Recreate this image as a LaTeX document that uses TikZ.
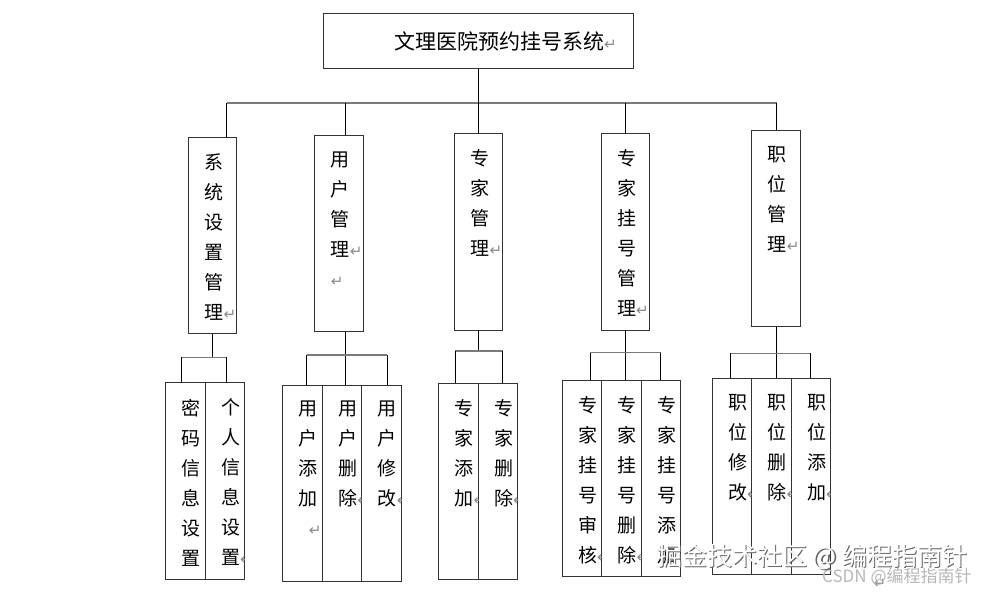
\documentclass[tikz,border=0pt]{standalone}
\usepackage{fontspec}
\newfontfamily\cjk{Noto Sans CJK SC}
\newfontfamily\symfont{DejaVu Sans}
\definecolor{retgray}{HTML}{8A8A8A}
\definecolor{busgray}{HTML}{7A7A7A}
\newcommand\rmk{{\symfont\fontsize{15}{15}\selectfont\color{retgray}↵}}
\newcommand\boxtext[3]{%
  \begin{scope}
    \clip (#1.north west) rectangle (#1.south east);
    \node[vtext] (#2) at ([shift={(16,16)}]#1.north west) {#3};
  \end{scope}}

\begin{document}
\begin{tikzpicture}[x=1pt, y=-1pt,
  mainbox/.style={draw=black!80, line width=0.9pt, fill=white, inner sep=0pt, outer sep=0pt, anchor=north west, minimum height=196.5pt, minimum width=48.5pt},
  leafbox/.style={mainbox, minimum width=39.5pt},
  vtext/.style={font=\cjk\fontsize{19}{30}\selectfont, align=left, inner sep=0pt, anchor=north west},
  link/.style={line width=0.8pt, black},
  bus/.style={line width=1.3pt, busgray}]
  \fill[white] (0,0) rectangle (990,592);
  \useasboundingbox (0,0) rectangle (990,592);

  % top
  \node[draw=black!80, line width=0.9pt, inner sep=0pt, minimum width=310pt, minimum height=54.7pt] (top) at (478,40.7) {};
  \node[anchor=west, inner sep=0pt, font=\cjk\fontsize{21}{24}\selectfont] (title) at (394,41.7) {文理医院预约挂号系统\rmk};

  % second level
  \node[mainbox] (b1) at (188.3,137) {};
  \node[mainbox] (b2) at (314.7,135.3) {};
  \node[mainbox] (b3) at (454.3,133.7) {};
  \node[mainbox] (b4) at (601,133.7) {};
  \node[mainbox] (b5) at (751.7,130) {};
  \boxtext{b1}{t1}{系\\统\\设\\置\\管\\理\rmk}
  \boxtext{b2}{t2}{用\\户\\管\\理\rmk\\\rmk}
  \boxtext{b3}{t3}{专\\家\\管\\理\rmk}
  \boxtext{b4}{t4}{专\\家\\挂\\号\\管\\理\rmk}
  \boxtext{b5}{t5}{职\\位\\管\\理\rmk}

  % third level
  \node[leafbox] (s1) at (165.5,382.7) {};
  \node[leafbox] (s2) at (205,382.7) {};
  \node[leafbox] (s3) at (282.7,385) {};
  \node[leafbox] (s4) at (322.2,385) {};
  \node[leafbox] (s5) at (361.7,385) {};
  \node[leafbox] (s6) at (438.5,383.3) {};
  \node[leafbox] (s7) at (478,383.3) {};
  \node[leafbox] (s8) at (562,380) {};
  \node[leafbox] (s9) at (601.5,380) {};
  \node[leafbox] (s10) at (641,380) {};
  \node[leafbox] (s11) at (712,378.3) {};
  \node[leafbox] (s12) at (751.5,378.3) {};
  \node[leafbox] (s13) at (791,378.3) {};
  \boxtext{s1}{u1}{密\\码\\信\\息\\设\\置}
  \boxtext{s2}{u2}{个\\人\\信\\息\\设\\置\rmk}
  \boxtext{s3}{u3}{用\\户\\添\\加\\\hspace*{10pt}\rmk}
  \boxtext{s4}{u4}{用\\户\\删\\除\rmk}
  \boxtext{s5}{u5}{用\\户\\修\\改\rmk}
  \boxtext{s6}{u6}{专\\家\\添\\加\rmk}
  \boxtext{s7}{u7}{专\\家\\删\\除\rmk}
  \boxtext{s8}{u8}{专\\家\\挂\\号\\审\\核\rmk}
  \boxtext{s9}{u9}{专\\家\\挂\\号\\删\\除\rmk}
  \boxtext{s10}{u10}{专\\家\\挂\\号\\添\\加}
  \boxtext{s11}{u11}{职\\位\\修\\改\rmk}
  \boxtext{s12}{u12}{职\\位\\删\\除\rmk}
  \boxtext{s13}{u13}{职\\位\\添\\加\rmk}

  % upper links
  \coordinate (h1) at (226.7,103);
  \coordinate (h2) at (345.3,103);
  \coordinate (h5) at (776.7,103);
  \draw[bus] (h1) -- (h5);
  \draw[link] (top.south) -- (top.south |- b3.north);
  \draw[link] (h1) -- (h1 |- b1.north);
  \draw[link] (h2) -- (h2 |- b2.north);
  \draw[link] (b4.north |- h1) -- (b4.north);
  \draw[link] (h5) -- (h5 |- b5.north);

  % lower links
  \coordinate (j1) at (181,357.3);
  \coordinate (k1) at (226.7,357.3);
  \draw[link] (b1.south) -- (b1.south |- j1);
  \draw[bus] (j1) -- (k1);
  \draw[link] (j1) -- (j1 |- s1.north);
  \draw[link] (k1) -- (k1 |- s2.north);

  \coordinate (j2) at (306.7,355);
  \coordinate (k2) at (387.3,355);
  \draw[link] (h2 |- b2.south) -- (h2 |- s4.north);
  \draw[bus] (j2) -- (k2);
  \draw[link] (j2) -- (j2 |- s3.north);
  \draw[link] (k2) -- (k2 |- s5.north);

  \coordinate (j3) at (455,351);
  \coordinate (k3) at (502.7,351);
  \draw[link] (b3.south) -- (b3.south |- j3);
  \draw[bus] (j3) -- (k3);
  \draw[link] (j3) -- (j3 |- s6.north);
  \draw[link] (k3) -- (k3 |- s7.north);

  \coordinate (j4) at (590,352.7);
  \coordinate (k4) at (660.7,352.7);
  \draw[link] (b4.south) -- (b4.south |- s9.north);
  \draw[bus] (j4) -- (k4);
  \draw[link] (j4) -- (j4 |- s8.north);
  \draw[link] (k4) -- (k4 |- s10.north);

  \coordinate (j5) at (730,353.3);
  \coordinate (k5) at (810.7,353.3);
  \draw[link] (b5.south) -- (b5.south |- s12.north);
  \draw[bus] (j5) -- (k5);
  \draw[link] (j5) -- (j5 |- s11.north);
  \draw[link] (k5) -- (k5 |- s13.north);

  % watermark
  \node[inner sep=0pt] (pmark) at (880,584) {\rmk};
  \node[anchor=west, inner sep=0pt, font=\cjk\fontsize{17}{17}\selectfont, text=black!28] (csdn) at (822,577) {CSDN @编程指南针};
  \node[anchor=west, inner sep=0pt, font=\cjk\fontsize{25}{25}\selectfont, text=black!60] (wmshadow) at (658.2,558.2) {掘金技术社区 @ 编程指南针};
  \node[anchor=west, inner sep=0pt, font=\cjk\fontsize{25}{25}\selectfont, text=white] (wm) at (657,557) {掘金技术社区 @ 编程指南针};
\end{tikzpicture}
\end{document}
